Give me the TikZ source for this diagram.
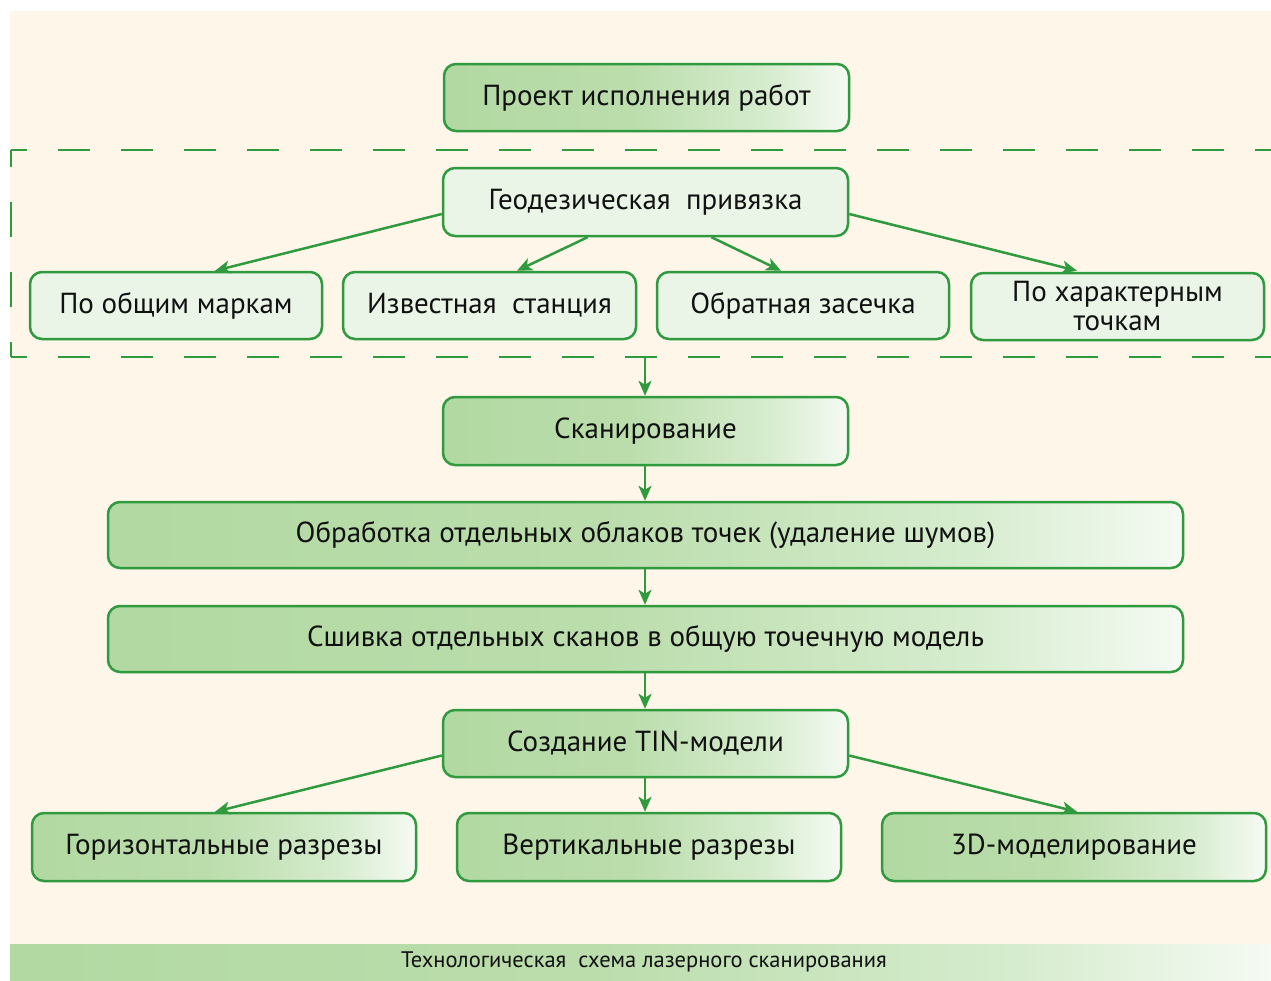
\documentclass[tikz,border=0pt]{standalone}
\usepackage{fontspec}
\setmainfont{PT Sans}
\usetikzlibrary{arrows.meta,calc}
\definecolor{cream}{HTML}{FEF6E9}
\definecolor{gline}{HTML}{2F9A3E}
\definecolor{ga}{HTML}{B2D9A2}
\definecolor{gb}{HTML}{BBDDAC}
\definecolor{gc}{HTML}{D6ECCE}
\definecolor{gd}{HTML}{F5FAF3}
\definecolor{lightg}{HTML}{EAF5E8}
\definecolor{txt}{HTML}{111111}
\pgfdeclarehorizontalshading{gfade}{100bp}{color(0bp)=(ga); color(25bp)=(ga); color(48bp)=(gb); color(65bp)=(gc); color(75bp)=(gd); color(100bp)=(gd)}
\tikzset{
  basebox/.style={draw=gline, line width=2.5pt, rounded corners=12pt, inner sep=0pt, align=center,
    text=txt, font=\fontsize{29}{29}\selectfont},
  box/.style={basebox, text height=20pt, text depth=5pt},
  gbox/.style={box, shading=gfade},
  lbox/.style={box, fill=lightg},
  arr/.style={draw=gline, line width=2.5pt, -{Stealth[length=15pt,width=13pt,inset=4pt]}},
  dashline/.style={draw=gline, line width=2.5pt}
}
\begin{document}
\begin{tikzpicture}[x=1pt,y=-1pt]
\useasboundingbox (0,0) rectangle (1271,980);
\fill[cream] (10,11) rectangle (1271,944);
\shade[shading=gfade] (10,944) rectangle (1271,980);
\node[font=\fontsize{22.5}{24}\selectfont, text=txt] (cap) at (644,962) {Технологическая\ \ схема лазерного сканирования};
% dashed frame
\draw[dashline, dash pattern=on 32pt off 31pt, dash phase=16pt] (11,150) -- (1275,150);
\draw[dashline, dash pattern=on 32pt off 31pt, dash phase=16pt] (11,357) -- (1275,357);
\draw[dashline, dash pattern=on 35pt off 35pt, dash phase=18pt] (11,150) -- (11,357);
\coordinate (dashb) at (645,358);
% nodes
\node[gbox, minimum width=405pt, minimum height=67pt] (proj) at (646.5,97.5) {Проект исполнения работ};
\node[lbox, minimum width=405pt, minimum height=68pt] (geo) at (645.5,202) {Геодезическая\ \ привязка};
\node[lbox, minimum width=292pt, minimum height=67pt] (m1) at (176,305.5) {По общим маркам};
\node[lbox, minimum width=293pt, minimum height=67pt] (m2) at (489.5,305.5) {Известная\ \ станция};
\node[lbox, minimum width=292pt, minimum height=67pt] (m3) at (803,305.5) {Обратная засечка};
\node[basebox, fill=lightg, minimum width=293pt, minimum height=67pt] (m4) at (1117.5,306.5) {По характерным\\точкам};
\node[gbox, minimum width=405pt, minimum height=68pt] (scan) at (645.5,431) {Сканирование};
\node[gbox, minimum width=1075pt, minimum height=66pt] (proc) at (645.5,535) {Обработка отдельных облаков точек (удаление шумов)};
\node[gbox, minimum width=1075pt, minimum height=66pt] (stitch) at (645.5,639) {Сшивка отдельных сканов в общую точечную модель};
\node[gbox, minimum width=405pt, minimum height=67pt] (tin) at (645.5,743.5) {Создание TIN-модели};
\node[gbox, minimum width=384pt, minimum height=68pt] (b1) at (224,847) {Горизонтальные разрезы};
\node[gbox, minimum width=384pt, minimum height=68pt] (b2) at (649,847) {Вертикальные разрезы};
\node[gbox, minimum width=384pt, minimum height=68pt] (b3) at (1074,847) {3D-моделирование};
% arrows
\draw[arr] ([yshift=-12pt]geo.west) -- ([xshift=39pt]m1.north);
\draw[arr] ([xshift=-58pt]geo.south) -- ([xshift=27.5pt]m2.north);
\draw[arr] ([xshift=66pt]geo.south) -- ([xshift=-22pt]m3.north);
\draw[arr] ([yshift=-12pt]geo.east) -- ([xshift=-40.5pt,yshift=1pt]m4.north);
\draw[arr] (dashb) -- (scan.north -| dashb);
\draw[arr] (scan.south -| dashb) -- (proc.north -| dashb);
\draw[arr] (proc.south -| dashb) -- (stitch.north -| dashb);
\draw[arr] (stitch.south -| dashb) -- (tin.north -| dashb);
\draw[arr] ([yshift=-12pt]tin.west) -- ([xshift=-9pt]b1.north);
\draw[arr] (tin.south -| dashb) -- (b2.north -| dashb);
\draw[arr] ([yshift=-12pt]tin.east) -- ([xshift=3pt]b3.north);
\end{tikzpicture}
\end{document}
